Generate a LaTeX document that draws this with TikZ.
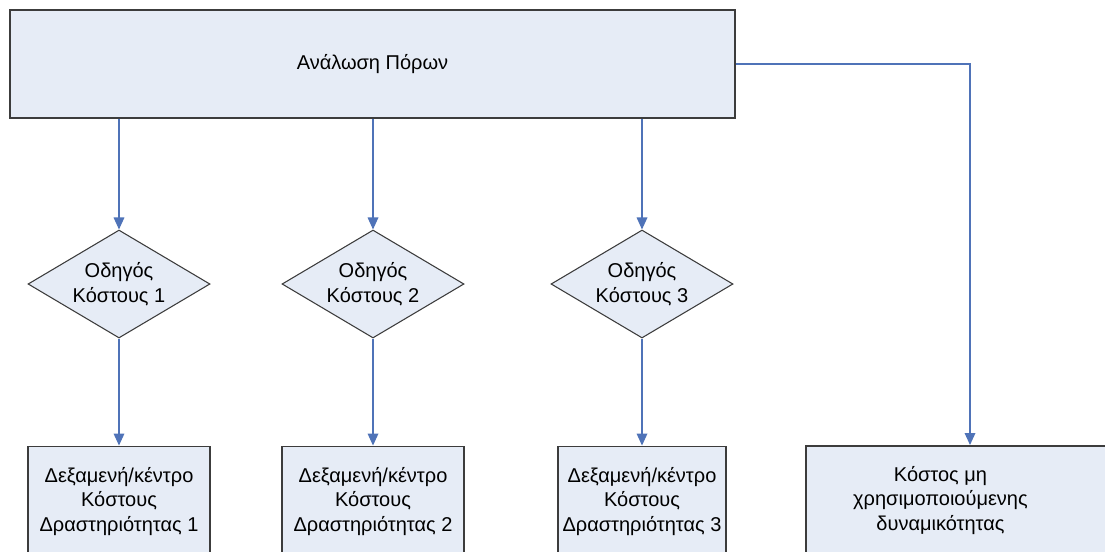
\documentclass[tikz,border=0pt]{standalone}
\usepackage{fontspec}
\setmainfont{Liberation Sans}
\usetikzlibrary{arrows.meta,positioning,shapes.geometric}
\definecolor{boxfill}{HTML}{E6ECF6}
\definecolor{boxline}{HTML}{3C3C3C}
\definecolor{linkblue}{HTML}{4F73B8}
\tikzset{
  source/.style={
    draw=boxline,
    fill=boxfill,
    line width=1.2pt,
    minimum width=543.75pt,
    minimum height=81pt,
    font=\fontsize{15}{18.4}\selectfont
  },
  driver/.style={
    diamond,
    draw=boxline,
    fill=boxfill,
    line width=0.8pt,
    align=center,
    shape aspect=1.7,
    inner sep=0pt,
    minimum width=136.5pt,
    minimum height=81pt,
    font=\fontsize{15}{18.4}\selectfont
  },
  pool/.style={
    draw=boxline,
    fill=boxfill,
    line width=1.2pt,
    align=center,
    minimum width=136.5pt,
    minimum height=82.5pt,
    inner sep=2pt,
    font=\fontsize{15}{18.4}\selectfont
  },
  link/.style={
    -{Triangle[length=9pt,width=8pt]},
    line width=0.9pt,
    draw=linkblue
  }
}
\begin{document}
\begin{tikzpicture}[x=0.75pt,y=0.75pt]
  \useasboundingbox (0,0) rectangle (1105,-551);
  \node[source] (use) at (372.5,-64) {Ανάλωση Πόρων};
  \node[driver] (drv1) at (119,-284) {Οδηγός\\Κόστους 1};
  \node[driver] (drv2) at (373,-284) {Οδηγός\\Κόστους 2};
  \node[driver] (drv3) at (642,-284) {Οδηγός\\Κόστους 3};
  \node[pool, below=80.25pt of drv1] (pool1) {Δεξαμενή/κέντρο\\Κόστους\\Δραστηριότητας 1};
  \node[pool, below=80.25pt of drv2] (pool2) {Δεξαμενή/κέντρο\\Κόστους\\Δραστηριότητας 2};
  \node[pool, below=80.25pt of drv3, minimum width=126pt] (pool3) {Δεξαμενή/κέντρο\\Κόστους\\Δραστηριότητας 3};
  % the last box runs off the page, its text sits left of centre
  \node[pool, align=none, anchor=north west, minimum width=240pt] (idle) at (805,-445)
    {\hspace*{-38pt}\begin{tabular}{@{}c@{}}Κόστος μη\\χρησιμοποιούμενης\\δυναμικότητας\end{tabular}};
  \foreach \d/\p in {drv1/pool1,drv2/pool2,drv3/pool3} {
    \draw[link] (use.south -| \d) -- (\d.north);
    \draw[link] (\d.south) -- (\p.north -| \d);
  }
  \coordinate (bend) at (970,-64);
  \draw[link] (use.east) -- (bend) -- (bend |- idle.north);
\end{tikzpicture}
\end{document}
